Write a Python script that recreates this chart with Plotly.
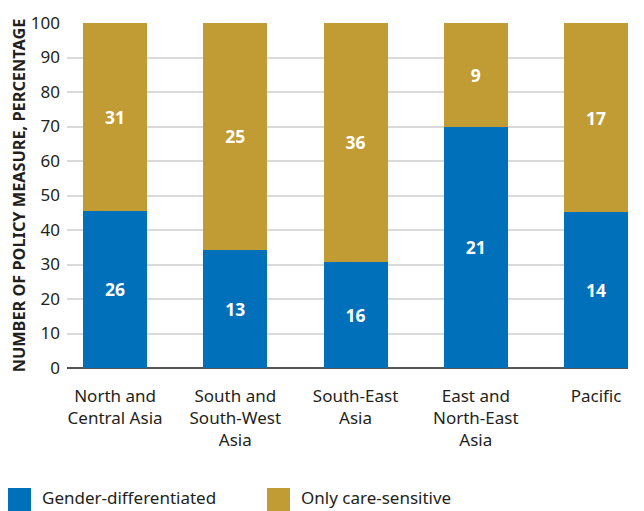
import plotly.graph_objects as go

categories = ["North and<br>Central Asia", "South and<br>South-West<br>Asia", "South-East<br>Asia",
              "East and<br>North-East<br>Asia", "Pacific"]
gender_diff = [26, 13, 16, 21, 14]
care_sensitive = [31, 25, 36, 9, 17]
series_names = ["Gender-differentiated", "Only care-sensitive"]
colors = ["#0070BA", "#C19B33"]

FONT = "Noto Sans"
OFF = 8  # page body margin
W, H = 644 - OFF, 511 - OFF
L, R, T, B = 67 - OFF, 16, 23 - OFF, 143
pw, ph = W - L - R, H - T - B

fig = go.Figure()
for name, vals, col in zip(series_names, [gender_diff, care_sensitive], colors):
    fig.add_trace(go.Bar(
        x=list(range(len(categories))), y=vals, name=name,
        marker=dict(color=col, line=dict(width=0)),
        text=[str(v) for v in vals], textposition="inside", insidetextanchor="middle",
        textfont=dict(family=FONT, size=17.5, color="white", weight="bold"),
        showlegend=False, width=0.532,
    ))

fig.update_layout(
    barmode="stack", barnorm="percent",
    width=W, height=H, margin=dict(l=L, r=R, t=T, b=B, autoexpand=False),
    paper_bgcolor="white", plot_bgcolor="white",
    font=dict(family=FONT, size=17, color="#231f20"),
)
fig.update_xaxes(
    range=[-0.4, 4.266], tickvals=list(range(len(categories))), ticktext=categories,
    showgrid=False, showline=False, zeroline=False, ticks="", ticklen=0,
    tickfont=dict(family=FONT, size=17, color="#231f20"), automargin=False,
    ticklabelstandoff=16,
)
fig.update_yaxes(
    range=[0, 100], dtick=10, showgrid=True, gridcolor="#dadada", gridwidth=1.5,
    zeroline=True, zerolinecolor="#555555", zerolinewidth=1.5, showline=False,
    tickfont=dict(family=FONT, size=17, color="#231f20"), ticks="", ticklabelstandoff=6,
    automargin=False,
    title=dict(text="NUMBER OF POLICY MEASURE, PERCENTAGE",
               font=dict(family=FONT, size=16.3, color="#231f20", weight="bold"), standoff=4),
)

def px2x(px):
    return (px - OFF - L) / pw

def py2y(py):
    return (H - B - (py - OFF)) / ph

legend_items = [(8, 40), (267, 299)]
for (sx, tx), name, col in zip(legend_items, series_names, colors):
    fig.add_shape(type="rect", xref="paper", yref="paper",
                  x0=px2x(sx), x1=px2x(sx + 23), y0=py2y(488), y1=py2y(511),
                  fillcolor=col, line=dict(width=0))
    fig.add_annotation(xref="paper", yref="paper", x=px2x(tx), y=py2y(498),
                       xanchor="left", yanchor="middle", text=name, showarrow=False,
                       font=dict(family=FONT, size=17, color="#231f20"))

fig.write_html("out.html")
